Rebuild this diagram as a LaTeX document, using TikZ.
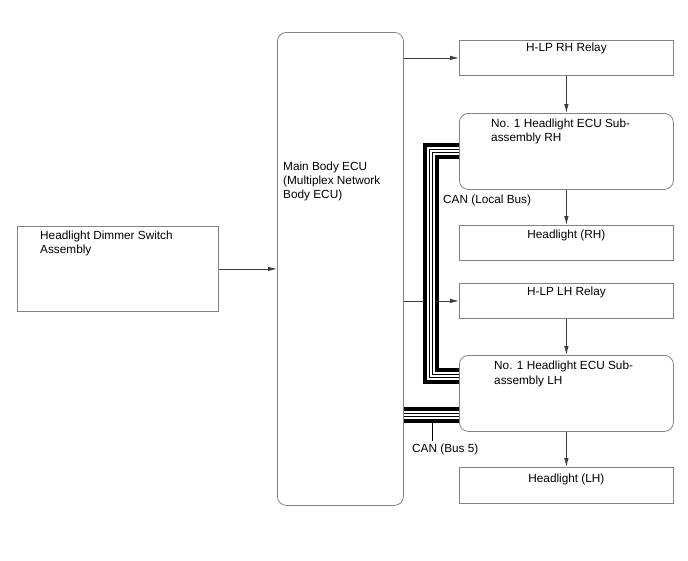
\documentclass[tikz,border=0pt]{standalone}
\usepackage{fontspec}
\setmainfont{Liberation Sans}
\usetikzlibrary{arrows.meta}

\definecolor{boxgray}{RGB}{130,130,130}
\definecolor{linegray}{RGB}{60,60,60}

% one CAN bus: thick, thin, thin, thick
\newcommand{\canbus}[1]{%
  \draw[black,line width=16pt] #1;
  \draw[white,line width=8pt] #1;
  \draw[black,line width=4pt] #1;
  \draw[white,line width=2pt] #1;}

\begin{document}
\begin{tikzpicture}[x=1pt,y=-1pt,
  box/.style={draw=boxgray,line width=0.8pt,anchor=north west,inner sep=0pt},
  ecu/.style={box,rounded corners=9pt},
  txt/.style={inner sep=0pt,align=left,font=\fontsize{11.8}{14.3}\selectfont},
  conn/.style={draw=linegray,line width=0.8pt,-{Latex[length=9pt,width=4.5pt]}}]
\useasboundingbox (0,0) rectangle (688,560);

% boxes
\node[box,minimum width=201pt,minimum height=85pt] (dimmer) at (17,226) {};
\node[ecu,minimum width=126pt,minimum height=473pt] (main) at (277,32) {};
\node[box,minimum width=214pt,minimum height=35pt] (rhrelay) at (459,40) {};
\node[ecu,minimum width=214pt,minimum height=76pt] (rhecu) at (459,113) {};
\node[box,minimum width=214pt,minimum height=35pt] (rhlamp) at (459,225) {};
\node[box,minimum width=214pt,minimum height=35pt] (lhrelay) at (459,283) {};
\node[ecu,minimum width=214pt,minimum height=76pt] (lhecu) at (459,355) {};
\node[box,minimum width=214pt,minimum height=36pt] (lhlamp) at (459,467) {};

% texts
\node[txt,anchor=north west] (dimmertxt) at ([xshift=23pt,yshift=-4.5pt]dimmer.north west) {Headlight Dimmer Switch\\Assembly};
\node[txt,anchor=north west] (maintxt) at ([xshift=6pt,yshift=-129.5pt]main.north west) {Main Body ECU\\(Multiplex Network\\Body ECU)};
\node[txt,anchor=base] (rhrelaytxt) at ([yshift=-11.5pt]rhrelay.north) {H-LP RH Relay};
\node[txt,anchor=north west] (rhecutxt) at ([xshift=32pt,yshift=-5.5pt]rhecu.north west) {No. 1 Headlight ECU Sub-\\assembly RH};
\node[txt,anchor=base] (rhlamptxt) at ([yshift=-13pt]rhlamp.north) {Headlight (RH)};
\node[txt,anchor=base] (lhrelaytxt) at ([yshift=-12pt]lhrelay.north) {H-LP LH Relay};
\node[txt,anchor=north west] (lhecutxt) at ([xshift=35pt,yshift=-6pt]lhecu.north west) {No. 1 Headlight ECU Sub-\\assembly LH};
\node[txt,anchor=base] (lhlamptxt) at ([yshift=-15pt]lhlamp.north) {Headlight (LH)};

% connectors
\draw[conn] (dimmer.east) -- (main.west |- dimmer.east);
\draw[conn] (main.east |- rhrelay.west) -- (rhrelay.west);
\draw[conn] (main.east |- lhrelay.west) -- (lhrelay.west);
\draw[conn] (rhrelay.south) -- (rhecu.north);
\draw[conn] (rhecu.south) -- (rhlamp.north);
\draw[conn] (lhrelay.south) -- (lhecu.north);
\draw[conn] (lhecu.south) -- (lhlamp.north);

% CAN buses
\coordinate (localend) at ([yshift=17pt]lhecu.west);
\coordinate (bus5end) at ([yshift=-22pt]lhecu.west);
\canbus{(rhecu.west) -- ++(-28,0) |- (localend)}
\canbus{(main.east |- bus5end) -- (bus5end)}

\node[txt,anchor=base west] (localtxt) at (443,203) {CAN (Local Bus)};
\node[txt,anchor=base west] (bus5txt) at (412,452) {CAN (Bus 5)};
\coordinate (bus5tap) at ([xshift=29pt,yshift=-8pt]main.east |- bus5end);
\draw[black,line width=0.8pt] (bus5tap) -- ([yshift=2pt]bus5tap |- bus5txt.north);
\end{tikzpicture}
\end{document}
